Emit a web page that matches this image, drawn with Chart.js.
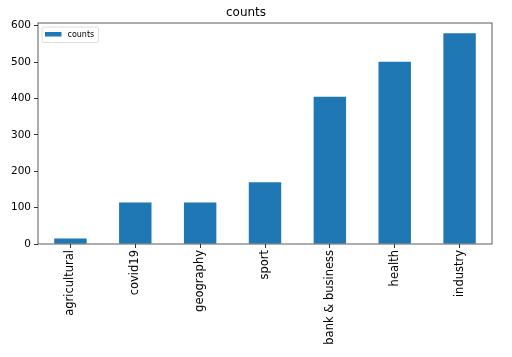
<!DOCTYPE html>
<html>
<head>
<meta charset="utf-8">
<script src="https://cdn.jsdelivr.net/npm/chart.js@4/dist/chart.umd.min.js"></script>
<style>
html,body{margin:0;padding:0;background:#fff;}
#wrap{width:512px;height:357px;position:relative;}
</style>
</head>
<body>
<div id="wrap"><canvas id="c" width="512" height="357"></canvas></div>
<script>
const categories = ["agricultural","covid19","geography","sport","bank & business","health","industry"];
const counts = [15, 114, 114, 170, 405, 501, 579];
const yTicks = [0,100,200,300,400,500,600];
const seriesName = "counts";
const titleText = "counts";

const FONT = "'DejaVu Sans', sans-serif";
const BLUE = "#1f77b4";

const framePlugin = {
  id: 'frame',
  afterDraw(chart) {
    const {ctx, chartArea: a} = chart;
    ctx.save();
    ctx.strokeStyle = '#333';
    ctx.lineWidth = 0.8;
    ctx.strokeRect(a.left, a.top, a.right - a.left, a.bottom - a.top);
    // legend
    const lx = a.left + 4, ly = a.top + 4;
    ctx.fillStyle = 'rgba(255,255,255,0.8)';
    ctx.strokeStyle = '#d6d6d6';
    ctx.lineWidth = 0.8;
    ctx.beginPath();
    ctx.roundRect(lx, ly, 56.5, 15.5, 2);
    ctx.fill();
    ctx.stroke();
    ctx.fillStyle = BLUE;
    ctx.fillRect(lx + 3, ly + 5, 16.5, 4.5);
    ctx.fillStyle = '#000';
    ctx.font = "8px " + FONT;
    ctx.textBaseline = 'middle';
    ctx.textAlign = 'left';
    ctx.fillText(seriesName, lx + 25.5, ly + 7.8);
    ctx.restore();
  }
};

new Chart(document.getElementById('c'), {
  type: 'bar',
  data: {
    labels: categories,
    datasets: [{
      label: seriesName,
      data: counts,
      backgroundColor: BLUE,
      borderColor: BLUE,
      borderWidth: 0,
      categoryPercentage: 1.0,
      barPercentage: 0.5
    }]
  },
  options: {
    responsive: false,
    animation: false,
    devicePixelRatio: 1,
    layout: { padding: { left: 0, right: 20, top: 0, bottom: 0 } },
    plugins: {
      legend: { display: false },
      tooltip: { enabled: false },
      title: {
        display: true,
        text: titleText,
        color: '#000',
        font: { family: FONT, size: 12, weight: 'normal' },
        padding: { top: 6, bottom: 2.6 }
      }
    },
    scales: {
      x: {
        offset: true,
        grid: { display: true, drawOnChartArea: false, offset: false, tickLength: 4, color: '#333', tickColor: '#333' },
        border: { display: false },
        ticks: {
          color: '#000',
          font: { family: FONT, size: 11.5 },
          minRotation: 90, maxRotation: 90,
          autoSkip: false,
          padding: 2
        },
        afterFit(scale) { scale.height = 113; }
      },
      y: {
        min: 0,
        max: 607.5,
        grid: { display: true, drawOnChartArea: false, tickLength: 4, color: '#333', tickColor: '#333' },
        border: { display: false },
        ticks: {
          color: '#000',
          font: { family: FONT, size: 10.5 },
          padding: 3
        },
        afterBuildTicks(scale) { scale.ticks = yTicks.map(v => ({ value: v })); },
        afterFit(scale) { scale.width = 38; }
      }
    }
  },
  plugins: [framePlugin]
});
</script>
</body>
</html>
